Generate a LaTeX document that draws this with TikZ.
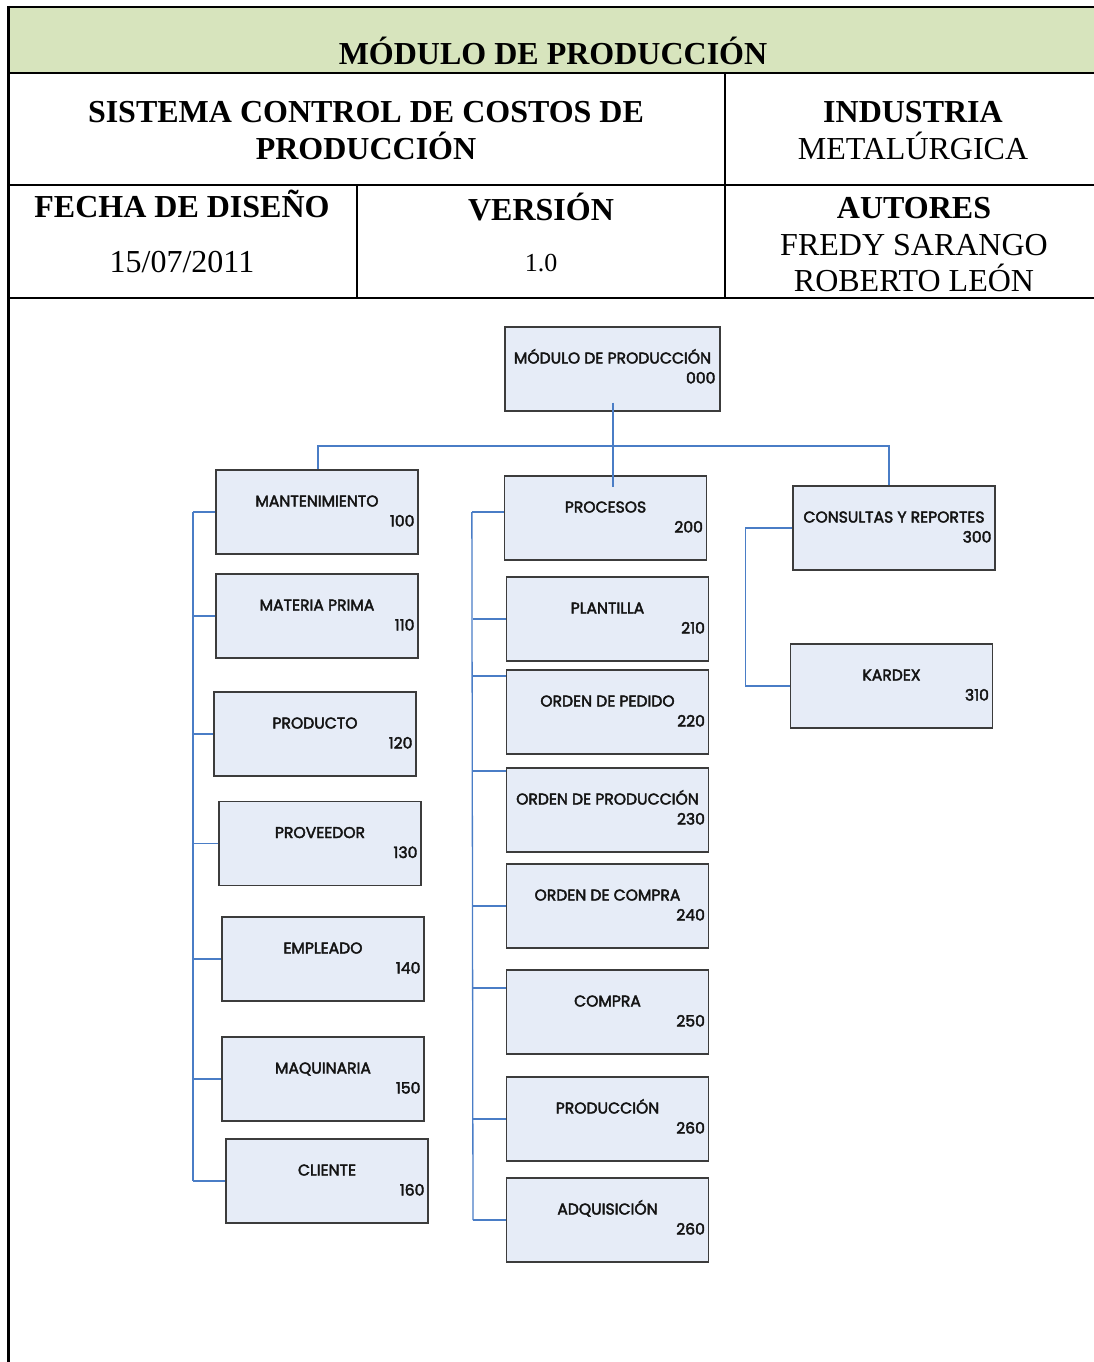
\documentclass[tikz,border=0pt]{standalone}
\usepackage{fontspec}
\setmainfont{Liberation Serif}
\newfontfamily\boxfont{Poppins}[FakeBold=2.6]
\usetikzlibrary{calc}
\definecolor{hdrgreen}{HTML}{D7E4BD}
\definecolor{boxfill}{HTML}{E6ECF7}
\definecolor{boxline}{HTML}{3C3C3C}
\definecolor{connblue}{HTML}{4A7DC6}
\newcommand\orgbox[5]{%
  \node[boxnode] (#1) at (#2,#3) {};
  \node[btitle] (#1-t) at ($(#1.center)+(0,-5.5)$) {#4};
  \node[bnum] (#1-n) at ($(#1.east)+(-4,14.5)$) {#5};
}
\begin{document}
\begin{tikzpicture}[x=1pt,y=-1pt,
  boxnode/.style={draw=boxline, line width=1.3pt, fill=boxfill, minimum width=202pt, minimum height=84pt, inner sep=0pt},
  btitle/.style={anchor=base, inner sep=0pt, font=\boxfont\fontsize{15.6}{18}\selectfont, text=black!92},
  bnum/.style={anchor=base east, inner sep=0pt, font=\boxfont\fontsize{15.6}{18}\selectfont, text=black!92},
  connline/.style={draw=connblue, line width=1.3pt},
  hb/.style={anchor=base, inner sep=0pt, font=\bfseries\fontsize{32}{36}\selectfont},
  hr/.style={anchor=base, inner sep=0pt, font=\fontsize{32}{36}\selectfont},
  hrule/.style={line width=2pt, draw=black}
]
\useasboundingbox (0,0) rectangle (1094,1362);
% header
\fill[hdrgreen] (8,7) rectangle (1094,73);
\draw[hrule] (7,7) -- (1094,7);
\draw[hrule] (8,73) -- (1094,73);
\draw[hrule] (8,185) -- (1094,185);
\draw[hrule] (8,298) -- (1094,298);
\draw[hrule] (725,73) -- (725,298);
\draw[hrule] (357,185) -- (357,298);
\draw[line width=3pt] (8,6) -- (8,1362);
\node[hb] (h-title) at (553,65) {MÓDULO DE PRODUCCIÓN};
\node[hb] (h-sis1) at (366,123) {SISTEMA CONTROL DE COSTOS DE};
\node[hb] (h-sis2) at (366,160) {PRODUCCIÓN};
\node[hb] (h-ind) at (913,123) {INDUSTRIA};
\node[hr] (h-met) at (913,160) {METALÚRGICA};
\node[hb] (h-fecha) at (182,217) {FECHA DE DISEÑO};
\node[hr] (h-date) at (182,272) {15/07/2011};
\node[hb] (h-ver) at (541,220) {VERSIÓN};
\node[hr, font=\fontsize{26}{30}\selectfont] (h-vnum) at (541,271) {1.0};
\node[hb] (h-aut) at (914,218) {AUTORES};
\node[hr] (h-a1) at (914,255) {FREDY SARANGO};
\node[hr] (h-a2) at (914,291) {ROBERTO LEÓN};
% top box
\node[boxnode, minimum width=215pt] (top) at (612.5,369) {};
\node[btitle] (top-t) at ($(top.center)+(0,-5.5)$) {MÓDULO DE PRODUCCIÓN};
\node[bnum] (top-n) at ($(top.east)+(-5,14.5)$) {000};
% left column
\orgbox{mant}{317}{512}{MANTENIMIENTO}{100}
\orgbox{mp}{317}{616}{MATERIA PRIMA}{110}
\orgbox{prod}{315}{734}{PRODUCTO}{120}
\orgbox{prov}{320}{843.5}{PROVEEDOR}{130}
\orgbox{emp}{323}{959}{EMPLEADO}{140}
\orgbox{maq}{323}{1079}{MAQUINARIA}{150}
\orgbox{cli}{327}{1181}{CLIENTE}{160}
% middle column
\orgbox{proc}{605.5}{518}{PROCESOS}{200}
\orgbox{plant}{607.5}{619}{PLANTILLA}{210}
\orgbox{ped}{607.5}{712}{ORDEN DE PEDIDO}{220}
\orgbox{oprod}{607.5}{810}{ORDEN DE PRODUCCIÓN}{230}
\orgbox{ocomp}{607.5}{906}{ORDEN DE COMPRA}{240}
\orgbox{compra}{607.5}{1012}{COMPRA}{250}
\orgbox{produc}{607.5}{1119}{PRODUCCIÓN}{260}
\orgbox{adq}{607.5}{1220}{ADQUISICIÓN}{260}
% right column
\orgbox{cons}{894}{528}{CONSULTAS Y REPORTES}{300}
\orgbox{kar}{891.5}{686}{KARDEX}{310}
% connectors
\coordinate (j) at (613,446);
\coordinate (lb) at (193,0);
\coordinate (mb) at (473,0);
\draw[connline] ($(top.south)+(0.5,-9)$) -- ($(top.south)+(0.5,75)$);
\draw[connline] ($(mant.north)+(1,0)$) |- (j) -| ($(cons.north)+(-5,0)$);
\foreach \b in {mant,mp,prod,prov,emp,maq,cli}
  \draw[connline] (\b.west) -- (\b.west -| lb);
\draw[connline] (mant.west -| lb) -- (cli.west -| lb);
\draw[connline] ($(proc.west)+(0,-6)$) -- ++(-32,0);
\draw[connline] (plant.west) -- (plant.west -| mb);
\draw[connline] ($(ped.west)+(0,-36)$) -- ++(-34,0);
\draw[connline] ($(oprod.west)+(0,-39)$) -- ++(-34,0);
\draw[connline] (ocomp.west) -- (ocomp.west -| mb);
\draw[connline] ($(compra.west)+(0,-24)$) -- ++(-34,0);
\draw[connline] (produc.west) -- (produc.west -| mb);
\draw[connline] (adq.west) -- (adq.west -| mb);
\draw[connline] ($(proc.west)+(-32,-6)$) -- (adq.west -| mb);
\draw[connline] (cons.west) -- ++(-47,0) |- (kar.west);
\end{tikzpicture}
\end{document}
